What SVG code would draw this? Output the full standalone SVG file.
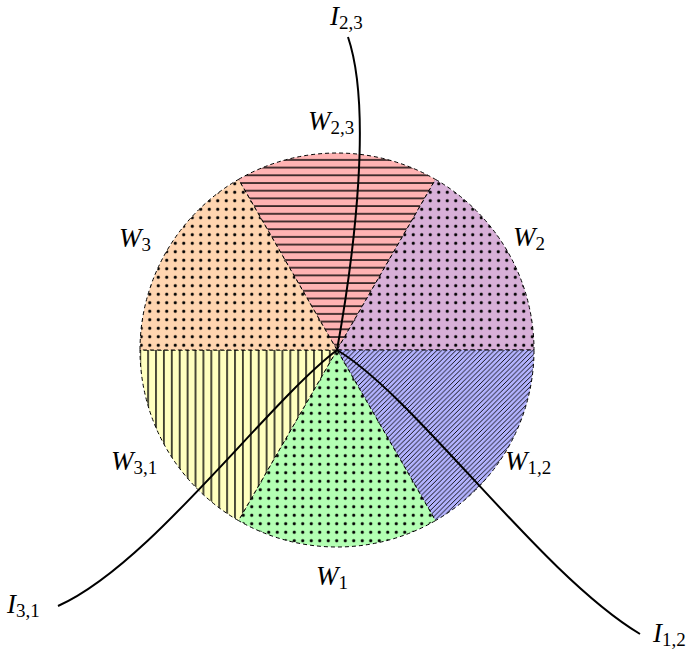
<svg xmlns="http://www.w3.org/2000/svg" width="693" height="655" viewBox="0 0 693 655">
<defs>
<style>
.sec{stroke:#000;stroke-width:1;stroke-dasharray:4 3}
.cur{fill:none;stroke:#000;stroke-width:2}
.lbl{font-family:"Liberation Serif","DejaVu Serif",serif;font-size:27px;fill:#000}
.it{font-style:italic}
.sub{font-size:19px}
</style>
<pattern id="dots" patternUnits="userSpaceOnUse" width="8.5" height="8.5" x="1" y="1"><circle cx="4.25" cy="4.25" r="1.55" fill="#000"/></pattern>
<pattern id="hl" patternUnits="userSpaceOnUse" width="8" height="7.7" y="2"><rect x="0" y="3.2" width="8" height="1.4" fill="#000"/></pattern>
<pattern id="vl" patternUnits="userSpaceOnUse" width="7.9" height="8" x="2"><rect x="3.2" y="0" width="1.4" height="8" fill="#000"/></pattern>
<pattern id="ne" patternUnits="userSpaceOnUse" width="4.8" height="4.8"><path d="M-1,5.8 L5.8,-1 M-1,1 L1,-1 M3.8,5.8 L5.8,3.8" stroke="#000" stroke-width="0.9"/></pattern>
</defs>
<g id="sector-w23">
<path d="M337,350 L435.5,179.4 A197,197 0 0 0 238.5,179.4 Z" fill="#ffb3b3"/>
<path d="M337,350 L435.5,179.4 A197,197 0 0 0 238.5,179.4 Z" fill="url(#hl)" class="sec"/>
</g>
<g id="sector-w2">
<path d="M337,350 L534,350 A197,197 0 0 0 435.5,179.4 Z" fill="#d8b0d8"/>
<path d="M337,350 L534,350 A197,197 0 0 0 435.5,179.4 Z" fill="url(#dots)" class="sec"/>
</g>
<g id="sector-w12">
<path d="M337,350 L435.5,520.6 A197,197 0 0 0 534,350 Z" fill="#b3b3ff"/>
<path d="M337,350 L435.5,520.6 A197,197 0 0 0 534,350 Z" fill="url(#ne)" class="sec"/>
</g>
<g id="sector-w1">
<path d="M337,350 L238.5,520.6 A197,197 0 0 0 435.5,520.6 Z" fill="#b3ffb3"/>
<path d="M337,350 L238.5,520.6 A197,197 0 0 0 435.5,520.6 Z" fill="url(#dots)" class="sec"/>
</g>
<g id="sector-w31">
<path d="M337,350 L140,350 A197,197 0 0 0 238.5,520.6 Z" fill="#ffffbf"/>
<path d="M337,350 L140,350 A197,197 0 0 0 238.5,520.6 Z" fill="url(#vl)" class="sec"/>
</g>
<g id="sector-w3">
<path d="M337,350 L238.5,179.4 A197,197 0 0 0 140,350 Z" fill="#ffd5b0"/>
<path d="M337,350 L238.5,179.4 A197,197 0 0 0 140,350 Z" fill="url(#dots)" class="sec"/>
</g>
<g id="connectors">
<path class="cur" d="M348,37 C372,108 355,250 337,350"/>
<path class="cur" d="M58,606 C150,565 265,405 337,350"/>
<path class="cur" d="M640,634 C540,574 417,398 337,350"/>
</g>
<g id="labels">
<text class="lbl" x="330" y="25"><tspan class="it">I</tspan><tspan class="sub" dy="4">2,3</tspan></text>
<text class="lbl" x="308" y="130"><tspan class="it">W</tspan><tspan class="sub" dy="4">2,3</tspan></text>
<text class="lbl" x="513" y="246"><tspan class="it">W</tspan><tspan class="sub" dy="4">2</tspan></text>
<text class="lbl" x="119" y="247"><tspan class="it">W</tspan><tspan class="sub" dy="4">3</tspan></text>
<text class="lbl" x="111" y="470"><tspan class="it">W</tspan><tspan class="sub" dy="4">3,1</tspan></text>
<text class="lbl" x="505" y="470"><tspan class="it">W</tspan><tspan class="sub" dy="4">1,2</tspan></text>
<text class="lbl" x="316" y="585"><tspan class="it">W</tspan><tspan class="sub" dy="4">1</tspan></text>
<text class="lbl" x="7" y="613"><tspan class="it">I</tspan><tspan class="sub" dy="4">3,1</tspan></text>
<text class="lbl" x="653" y="642"><tspan class="it">I</tspan><tspan class="sub" dy="4">1,2</tspan></text>
</g>
</svg>
